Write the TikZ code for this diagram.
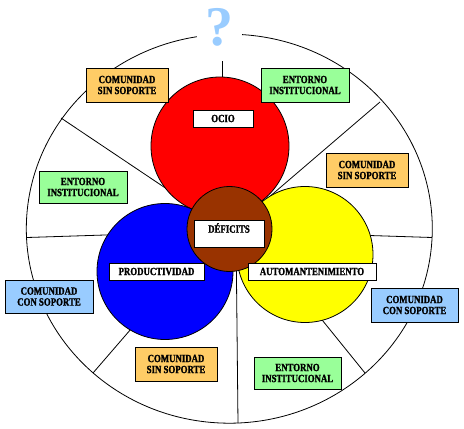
\documentclass[tikz,border=0pt]{standalone}
\usepackage{fontspec}
\newfontfamily\lbl[FakeStretch=0.8, BoldFeatures={FakeBold=1.5}]{Liberation Serif}
\newfontfamily\qfont{Liberation Serif}
\definecolor{boxorange}{HTML}{FFCC66}
\definecolor{boxgreen}{HTML}{99FF99}
\definecolor{boxblue}{HTML}{99CCFF}
\definecolor{circred}{HTML}{FF0000}
\definecolor{circblue}{HTML}{0000FF}
\definecolor{circyellow}{HTML}{FFFF00}
\definecolor{circbrown}{HTML}{993300}
\definecolor{qblue}{HTML}{99CCFF}
\begin{document}
\begin{tikzpicture}[x=1pt,y=1pt,yscale=-1,
  thinline/.style={draw=black, line width=0.8pt},
  blob/.style={circle, draw=black, line width=0.8pt, inner sep=0pt},
  lbox/.style={draw=black, line width=0.8pt, fill=white, inner sep=0pt,
    minimum height=17pt, font=\lbl\bfseries\fontsize{11}{11}\selectfont},
  cbox/.style={draw=black, line width=0.8pt, inner sep=0pt, align=center,
    minimum width=82pt, minimum height=34pt,
    font=\lbl\bfseries\fontsize{11}{11}\selectfont},
  orangebox/.style={cbox, fill=boxorange},
  greenbox/.style={cbox, fill=boxgreen, minimum width=88pt},
  bluebox/.style={cbox, fill=boxblue, minimum width=88pt}]
\useasboundingbox (0,0) rectangle (464,429);
\fill[white] (0,0) rectangle (464,429);

% outer ring with a gap at the top
\coordinate (ec) at (229.3,228.7);
\draw[thinline] (ec) ++(-86.4:203 and 194.5)
  arc[start angle=-86.4, end angle=260.8, x radius=203, y radius=194.5];

% spokes
\coordinate (c) at (229.5,231);
\coordinate (t1) at (222,61);
\coordinate (t2) at (222,82);
\coordinate (ul) at (61,118);
\coordinate (ur) at (380,102);
\coordinate (lf) at (27,237.5);
\coordinate (rt) at (432,237.5);
\coordinate (bt) at (238,423);
\coordinate (bti) at (236,232);
\coordinate (ll) at (93,373);
\coordinate (lli) at (150,307);
\coordinate (lr) at (365,373);
\coordinate (lri) at (310,305);
\draw[thinline] (t1) -- (t2);
\draw[thinline] (ul) -- (c);
\draw[thinline] (ur) -- (c);
\draw[thinline] (lf) -- (c);
\draw[thinline] (rt) -- (c);
\draw[thinline] (bt) -- (bti);
\draw[thinline] (ll) -- (lli);
\draw[thinline] (lr) -- (lri);

% circles
\node[blob, fill=circred, minimum size=138pt] (red) at (220,146) {};
\node[blob, fill=circblue, minimum size=136pt] (blue) at (165,271.5) {};
\node[blob, fill=circyellow, minimum size=136pt] (yellow) at (305,254.5) {};
\node[blob, fill=circbrown, minimum size=85pt] (brown) at (229.5,229) {};

% labels inside circles
\node[lbox, minimum width=60pt] (ocio) at (223,118.5) {OCIO};
\node[lbox, minimum width=70pt, minimum height=27pt, text height=7.5pt, text depth=9.2pt] (def) at (229,233.5) {DÉFICITS};
\node[lbox, minimum width=95pt] (prod) at (156.5,271.5) {PRODUCTIVIDAD};
\node[lbox, minimum width=128pt] (auto) at (312,271.5) {AUTOMANTENIMIENTO};

% surrounding boxes
\node[orangebox] (cs1) at (127,85) {COMUNIDAD\\SIN SOPORTE};
\node[greenbox] (ei1) at (305,85) {ENTORNO\\INSTITUCIONAL};
\node[greenbox, minimum height=32pt] (ei2) at (83,187) {ENTORNO\\INSTITUCIONAL};
\node[orangebox] (cs2) at (367,170) {COMUNIDAD\\SIN SOPORTE};
\node[bluebox, minimum height=33pt] (cc1) at (49,296.5) {COMUNIDAD\\CON SOPORTE};
\node[bluebox, minimum width=87pt] (cc2) at (414.5,305) {COMUNIDAD\\CON SOPORTE};
\node[orangebox] (cs3) at (176,364) {COMUNIDAD\\SIN SOPORTE};
\node[greenbox, minimum width=87pt, minimum height=32pt] (ei3) at (297.5,373) {ENTORNO\\INSTITUCIONAL};

% question mark
\node[inner sep=0pt, text=qblue, font=\qfont\bfseries\fontsize{56}{56}\selectfont] (q) at (219,27.5) {?};
\end{tikzpicture}
\end{document}
